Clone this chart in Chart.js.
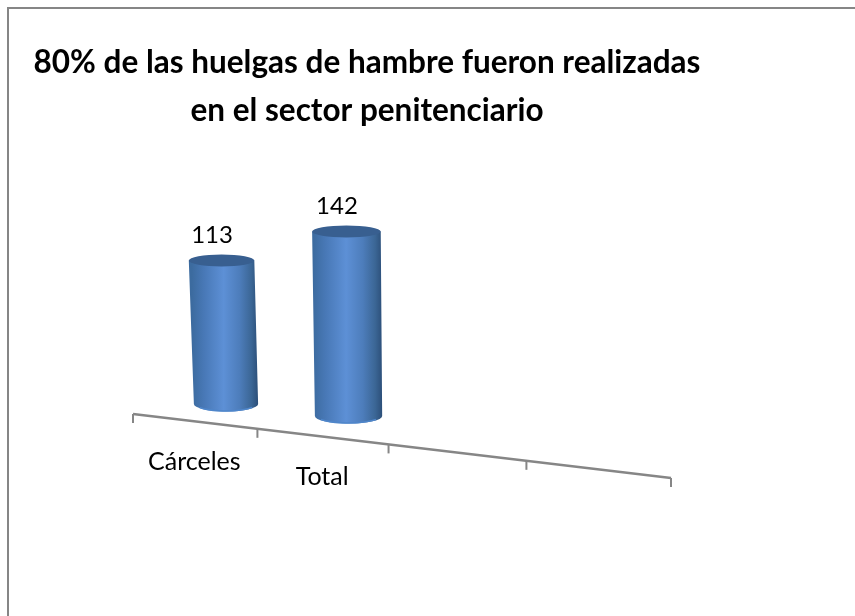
<!DOCTYPE html>
<html>
<head>
<meta charset="utf-8">
<script src="https://cdn.jsdelivr.net/npm/chart.js@4"></script>
<style>
  html, body { margin: 0; background: #fff; }
  #frame { position: absolute; left: 7px; top: 7px; width: 848px; height: 609px;
           border-left: 2px solid #868686; border-top: 2px solid #868686; }
  canvas { position: absolute; left: 0; top: 0; }
</style>
</head>
<body>
<div id="frame"></div>
<canvas id="myChart" width="855" height="616"></canvas>
<script>
const titleLines = ["80% de las huelgas de hambre fueron realizadas", "en el sector penitenciario"];
const categories = ["Cárceles", "Total", "", ""];
const values = [113, 142, null, null];

const AXIS_SLOPE = 0.119;
const FONT = "Lato";

// the original is a 3D chart: these bend the flat scale positions into its perspective
function axisX(chart, u) {
  const x = chart.scales.x;
  return x.left + x.width * (0.9 * u + 0.1 * u * u);
}
function axisY(chart, px) {
  return chart.scales.x.bottom + AXIS_SLOPE * (px - chart.scales.x.left);
}

const perspective = {
  id: "perspective",
  beforeDatasetsDraw(chart) {
    const ctx = chart.ctx;
    const n = categories.length;
    ctx.save();
    ctx.strokeStyle = "#868686";
    ctx.lineWidth = 2.5;
    const x0 = axisX(chart, 0), x1 = axisX(chart, 1);
    ctx.beginPath();
    ctx.moveTo(x0, axisY(chart, x0));
    ctx.lineTo(x1, axisY(chart, x1));
    ctx.stroke();
    ctx.lineWidth = 2;
    for (let i = 0; i <= n; i++) {
      const px = axisX(chart, i / n);
      ctx.beginPath();
      ctx.moveTo(px, axisY(chart, px));
      ctx.lineTo(px, axisY(chart, px) + 9);
      ctx.stroke();
    }
    ctx.fillStyle = "#000";
    ctx.font = "25px " + FONT;
    ctx.textAlign = "center";
    ctx.textBaseline = "middle";
    categories.forEach((label, i) => {
      const px = axisX(chart, (i + 0.5) / n);
      ctx.fillText(chart.scales.x.getLabelForValue(i), px, axisY(chart, px) + 41 - i);
    });
    ctx.restore();
  },
  // the bars are drawn here as cylinders, from the positions the bar elements got
  beforeDatasetDraw(chart, args) {
    const ctx = chart.ctx;
    const meta = chart.getDatasetMeta(args.index);
    meta.data.forEach((bar, i) => {
      if (values[i] === null) return;
      const xb = 226 + 0.911 * (bar.x - 200.25);
      const yb = 404 + 0.098 * (xb - 226);
      const grow = xb - 226;
      const h = (bar.base - bar.y) * (1 + 0.00019 * grow);
      const xt = xb - h * (0.031 - 0.00016 * grow);
      const yt = yb - h;
      const wb = bar.width * (0.955 + 0.00037 * grow);
      const wt = wb * 1.02;
      const rb = 7.5, rt = 6;

      const grad = ctx.createLinearGradient(xb - wb / 2 - 2, 0, xb + wb / 2, 0);
      grad.addColorStop(0, "#3c6b9f");
      grad.addColorStop(0.18, "#4878b6");
      grad.addColorStop(0.48, "#5d90d6");
      grad.addColorStop(0.72, "#4d7dbb");
      grad.addColorStop(0.9, "#3b6695");
      grad.addColorStop(1, "#2c4f79");
      ctx.save();
      ctx.fillStyle = grad;
      ctx.beginPath();
      ctx.moveTo(xt - wt / 2, yt);
      ctx.lineTo(xb - wb / 2, yb);
      ctx.ellipse(xb, yb, wb / 2, rb, 0, Math.PI, 0, true);
      ctx.lineTo(xt + wt / 2, yt);
      ctx.closePath();
      ctx.fill();
      // lighter rim along the bottom edge
      ctx.strokeStyle = "#4f86ca";
      ctx.lineWidth = 1.5;
      ctx.beginPath();
      ctx.ellipse(xb, yb - 0.5, wb / 2 - 1, rb, 0, Math.PI * 0.82, Math.PI * 0.18, true);
      ctx.stroke();
      ctx.fillStyle = "#385f90";
      ctx.beginPath();
      ctx.ellipse(xt, yt, wt / 2, rt, 0, 0, Math.PI * 2);
      ctx.fill();
      ctx.fillStyle = "#000";
      ctx.font = "24px " + FONT;
      ctx.textAlign = "center";
      ctx.textBaseline = "middle";
      ctx.fillText(String(values[i]), xt - 9.5, yt - 25);
      ctx.restore();
    });
    return false;
  },
};

new Chart(document.getElementById("myChart"), {
  type: "bar",
  data: {
    labels: categories,
    datasets: [{ label: "Huelgas", data: values, backgroundColor: "#4f81bd", barPercentage: 0.5, categoryPercentage: 1 }],
  },
  options: {
    responsive: false,
    animation: false,
    layout: { padding: { left: 8, right: 129, top: 8, bottom: 202 } },
    plugins: {
      legend: { display: false },
      tooltip: { enabled: false },
      title: {
        display: true,
        text: titleLines,
        color: "#000",
        font: { family: FONT, size: 31.5, weight: "bold", lineHeight: 1.524 },
        padding: { top: 31, bottom: 25 },
      },
    },
    scales: {
      x: { display: false },
      y: {
        min: 0,
        max: 200,
        ticks: { display: false },
        grid: { display: false },
        border: { display: false },
        afterFit(scale) { scale.width = 125; },
      },
      // empty axis on the right, keeps the plot narrower than the title
      yRight: {
        position: "right",
        ticks: { display: false },
        grid: { display: false },
        border: { display: false },
        afterFit(scale) { scale.width = 55; },
      },
    },
  },
  plugins: [perspective],
});
</script>
</body>
</html>
